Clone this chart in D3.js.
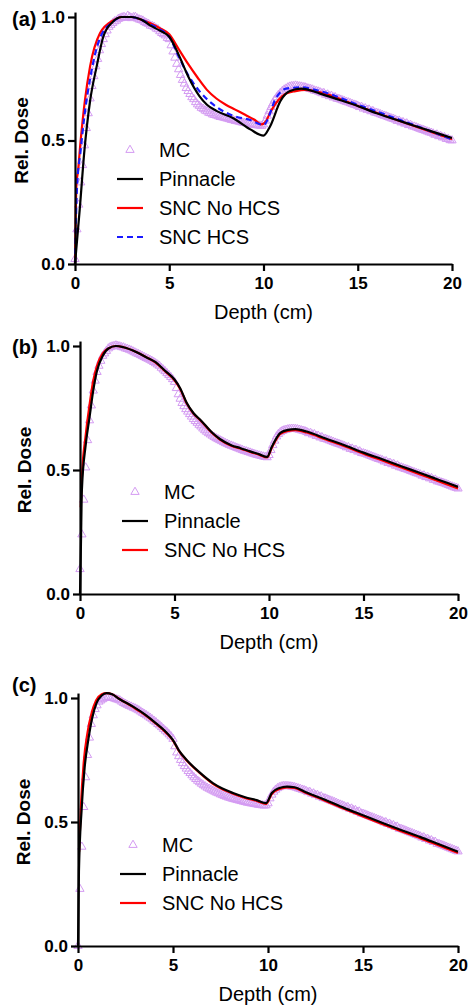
<!DOCTYPE html>
<html>
<head>
<meta charset="utf-8">
<script src="https://cdn.jsdelivr.net/npm/d3@7"></script>
<style>
  body { margin: 0; background: #fff; }
  text { font-family: "Liberation Sans", Arial, sans-serif; }
</style>
</head>
<body>
<div id="chart"></div>
<script>
// ---- data ----
const depthTicks = [0, 5, 10, 15, 20];
const doseTicks = [0, 0.5, 1.0];
const panelLabels = ["(a)", "(b)", "(c)"];

// MC scored on a 0.1 cm grid, 0..20 cm
const mcDepth = d3.range(0, 201).map(i => i / 10);

const mcA = [
  0.02, 0.14, 0.24, 0.33, 0.40, 0.48, 0.55, 0.61, 0.67, 0.72,
  0.76, 0.80, 0.83, 0.865, 0.89, 0.91, 0.93, 0.945, 0.96, 0.968,
  0.975, 0.982, 0.985, 0.992, 0.995, 0.998, 1.0, 0.996, 1.005, 1.0,
  0.995, 0.999, 1.0, 0.994, 0.99, 0.988, 0.985, 0.979, 0.975, 0.972,
  0.965, 0.963, 0.96, 0.953, 0.95, 0.942, 0.935, 0.93, 0.925, 0.915,
  0.91, 0.885, 0.86, 0.835, 0.81, 0.788, 0.765, 0.745, 0.73, 0.712,
  0.70, 0.688, 0.675, 0.667, 0.655, 0.646, 0.64, 0.632, 0.628, 0.621,
  0.618, 0.612, 0.61, 0.605, 0.603, 0.601, 0.598, 0.595, 0.594, 0.592,
  0.59, 0.588, 0.586, 0.583, 0.582, 0.579, 0.578, 0.576, 0.574, 0.572,
  0.571, 0.569, 0.568, 0.566, 0.565, 0.563, 0.562, 0.561, 0.56, 0.559,
  0.565, 0.58, 0.60, 0.618, 0.635, 0.65, 0.665, 0.675, 0.685, 0.693,
  0.70, 0.706, 0.71, 0.715, 0.718, 0.72, 0.72, 0.722, 0.72, 0.719,
  0.718, 0.716, 0.715, 0.712, 0.71, 0.708, 0.706, 0.702, 0.70, 0.698,
  0.695, 0.691, 0.692, 0.685, 0.686, 0.679, 0.681, 0.674, 0.675, 0.669,
  0.668, 0.665, 0.662, 0.659, 0.656, 0.654, 0.651, 0.648, 0.645, 0.643,
  0.64, 0.635, 0.636, 0.629, 0.63, 0.624, 0.625, 0.618, 0.619, 0.613,
  0.612, 0.609, 0.606, 0.603, 0.60, 0.598, 0.595, 0.592, 0.589, 0.587,
  0.584, 0.579, 0.58, 0.573, 0.574, 0.568, 0.569, 0.562, 0.563, 0.557,
  0.556, 0.553, 0.55, 0.547, 0.544, 0.542, 0.539, 0.536, 0.533, 0.531,
  0.528, 0.523, 0.524, 0.517, 0.518, 0.512, 0.513, 0.506, 0.507, 0.501,
  0.50
];
const mcB = [
  0.10, 0.24, 0.38, 0.51, 0.62, 0.70, 0.76, 0.82, 0.86, 0.895,
  0.92, 0.94, 0.96, 0.97, 0.98, 0.99, 0.995, 0.998, 1.0, 1.002,
  1.0, 0.998, 0.995, 0.994, 0.99, 0.988, 0.985, 0.982, 0.978, 0.974,
  0.97, 0.967, 0.963, 0.959, 0.955, 0.951, 0.948, 0.944, 0.94, 0.935,
  0.93, 0.925, 0.92, 0.912, 0.905, 0.898, 0.89, 0.883, 0.875, 0.866,
  0.855, 0.83, 0.805, 0.787, 0.77, 0.757, 0.745, 0.735, 0.725, 0.715,
  0.705, 0.697, 0.69, 0.682, 0.675, 0.667, 0.66, 0.654, 0.648, 0.643,
  0.638, 0.633, 0.628, 0.624, 0.62, 0.616, 0.612, 0.608, 0.605, 0.601,
  0.598, 0.595, 0.592, 0.589, 0.586, 0.583, 0.58, 0.577, 0.575, 0.572,
  0.57, 0.567, 0.565, 0.562, 0.56, 0.558, 0.556, 0.554, 0.552, 0.551,
  0.56, 0.58, 0.60, 0.618, 0.635, 0.645, 0.652, 0.657, 0.66, 0.662,
  0.664, 0.665, 0.666, 0.666, 0.665, 0.664, 0.662, 0.66, 0.658, 0.656,
  0.653, 0.648, 0.649, 0.643, 0.644, 0.637, 0.638, 0.631, 0.632, 0.626,
  0.625, 0.622, 0.619, 0.616, 0.613, 0.61, 0.607, 0.605, 0.602, 0.599,
  0.596, 0.591, 0.592, 0.585, 0.586, 0.58, 0.581, 0.574, 0.575, 0.568,
  0.567, 0.565, 0.562, 0.559, 0.556, 0.553, 0.55, 0.547, 0.544, 0.542,
  0.539, 0.534, 0.535, 0.528, 0.529, 0.523, 0.524, 0.517, 0.518, 0.511,
  0.51, 0.507, 0.504, 0.502, 0.499, 0.496, 0.493, 0.49, 0.487, 0.485,
  0.482, 0.477, 0.478, 0.471, 0.472, 0.466, 0.467, 0.46, 0.461, 0.454,
  0.453, 0.45, 0.448, 0.445, 0.442, 0.439, 0.436, 0.433, 0.43, 0.428,
  0.425
];
const mcC = [
  0.0, 0.23, 0.40, 0.56, 0.68, 0.77, 0.84, 0.895, 0.93, 0.955,
  0.97, 0.985, 0.99, 0.995, 1.0, 1.003, 1.005, 1.0, 1.0, 0.998,
  0.995, 0.993, 0.99, 0.985, 0.98, 0.976, 0.972, 0.968, 0.965, 0.961,
  0.958, 0.954, 0.95, 0.945, 0.94, 0.935, 0.93, 0.925, 0.92, 0.914,
  0.908, 0.902, 0.895, 0.889, 0.882, 0.875, 0.868, 0.861, 0.853, 0.845,
  0.835, 0.805, 0.78, 0.765, 0.75, 0.737, 0.725, 0.715, 0.705, 0.697,
  0.688, 0.68, 0.673, 0.666, 0.66, 0.654, 0.648, 0.643, 0.638, 0.634,
  0.63, 0.626, 0.622, 0.618, 0.615, 0.611, 0.608, 0.605, 0.602, 0.599,
  0.597, 0.594, 0.592, 0.59, 0.588, 0.586, 0.584, 0.582, 0.58, 0.578,
  0.577, 0.575, 0.574, 0.572, 0.571, 0.569, 0.568, 0.567, 0.566, 0.567,
  0.575, 0.595, 0.61, 0.622, 0.63, 0.636, 0.64, 0.643, 0.645, 0.645,
  0.645, 0.644, 0.643, 0.642, 0.64, 0.638, 0.635, 0.633, 0.63, 0.628,
  0.625, 0.62, 0.621, 0.614, 0.615, 0.608, 0.609, 0.602, 0.603, 0.596,
  0.595, 0.592, 0.589, 0.586, 0.583, 0.58, 0.577, 0.573, 0.57, 0.567,
  0.564, 0.559, 0.56, 0.553, 0.554, 0.547, 0.548, 0.541, 0.542, 0.534,
  0.533, 0.53, 0.527, 0.524, 0.521, 0.518, 0.515, 0.512, 0.509, 0.506,
  0.503, 0.498, 0.499, 0.492, 0.493, 0.486, 0.487, 0.48, 0.481, 0.473,
  0.472, 0.469, 0.466, 0.463, 0.46, 0.457, 0.454, 0.451, 0.448, 0.445,
  0.442, 0.437, 0.438, 0.431, 0.432, 0.425, 0.426, 0.419, 0.42, 0.412,
  0.411, 0.408, 0.405, 0.402, 0.399, 0.396, 0.393, 0.39, 0.387, 0.384,
  0.381
];

// [depth, dose]
const pinnacleA = [[0,0],[0.25,0.22],[0.5,0.46],[0.8,0.66],[1.15,0.8],[1.5,0.92],[2.0,0.98],[2.5,1.0],[3.0,1.0],[3.5,0.99],[4.0,0.965],[4.5,0.945],[5.0,0.92],[5.3,0.88],[5.6,0.83],[6.0,0.76],[6.6,0.68],[7.0,0.645],[7.5,0.62],[8.4,0.59],[9.3,0.545],[10.0,0.52],[10.34,0.556],[10.9,0.66],[11.4,0.70],[12,0.71],[13,0.69],[14,0.665],[15,0.64],[16,0.61],[17,0.585],[18,0.56],[19,0.535],[20,0.51]];
const sncNoHcsA = [[0,0],[0.08,0.33],[0.15,0.37],[0.3,0.5],[0.53,0.664],[0.8,0.8],[1.33,0.935],[2.0,0.985],[2.5,1.0],[3.0,1.0],[3.5,0.99],[4.0,0.975],[4.5,0.955],[5.0,0.93],[5.5,0.87],[6.0,0.81],[6.5,0.755],[7.0,0.705],[7.5,0.67],[8.0,0.645],[8.5,0.625],[9.0,0.605],[9.5,0.585],[9.9,0.565],[10.1,0.575],[10.4,0.62],[10.8,0.665],[11.2,0.69],[11.7,0.70],[12.2,0.705],[13,0.695],[15,0.64],[17,0.585],[20,0.505]];
const sncHcsA = [[0,0],[0.1,0.3],[0.3,0.46],[0.5,0.6],[0.8,0.75],[1.3,0.91],[2.0,0.98],[2.5,1.0],[3.0,1.0],[3.5,0.99],[4.0,0.97],[4.5,0.95],[5.0,0.92],[5.5,0.84],[6.0,0.765],[6.6,0.70],[7.5,0.636],[8.4,0.60],[9.3,0.583],[10.0,0.563],[10.7,0.677],[11.2,0.71],[12,0.715],[13,0.70],[15,0.645],[17,0.59],[20,0.505]];

const pinnacleB = [[0,0],[0.05,0.2],[0.1,0.42],[0.3,0.6],[0.5,0.71],[0.7,0.82],[0.9,0.9],[1.2,0.96],[1.5,0.99],[1.9,1.0],[2.3,0.995],[3,0.975],[3.5,0.955],[4,0.935],[4.5,0.9],[5,0.865],[5.3,0.83],[5.65,0.77],[6,0.73],[6.4,0.70],[7.0,0.65],[7.4,0.625],[8,0.60],[8.5,0.588],[9,0.575],[9.5,0.563],[9.9,0.553],[10.15,0.594],[10.6,0.65],[11.0,0.662],[11.4,0.665],[12,0.655],[13,0.627],[14,0.60],[15,0.57],[16,0.543],[17,0.515],[18,0.488],[19,0.46],[20,0.432]];
const sncNoHcsB = [[0.04,0.35],[0.1,0.47],[0.3,0.64],[0.5,0.76],[0.7,0.86],[0.9,0.92],[1.2,0.97],[1.5,0.99],[1.9,1.0],[2.3,0.995],[3,0.975],[3.5,0.955],[4,0.933],[4.5,0.898],[5,0.862],[5.3,0.827],[5.65,0.768],[6,0.728],[6.4,0.698],[7.0,0.648],[7.4,0.623],[8,0.598],[8.5,0.586],[9,0.573],[9.5,0.561],[9.9,0.551],[10.15,0.59],[10.6,0.646],[11.0,0.658],[11.4,0.661],[12,0.651],[13,0.623],[14,0.596],[15,0.566],[16,0.538],[17,0.51],[18,0.482],[19,0.454],[20,0.425]];

const pinnacleC = [[0,0],[0.05,0.3],[0.19,0.55],[0.35,0.72],[0.54,0.83],[0.75,0.92],[0.98,0.98],[1.25,1.01],[1.5,1.02],[1.8,1.015],[2.2,0.995],[2.9,0.965],[3.5,0.935],[4.0,0.905],[4.67,0.86],[5.0,0.83],[5.3,0.79],[5.72,0.75],[6.4,0.70],[7.1,0.657],[7.6,0.635],[8.16,0.617],[8.8,0.60],[9.4,0.588],[9.9,0.576],[10.2,0.617],[10.6,0.637],[11.0,0.643],[11.4,0.64],[12,0.62],[13,0.59],[14,0.557],[15,0.527],[16,0.497],[17,0.468],[18,0.44],[19,0.41],[20,0.38]];
const sncNoHcsC = [[0.06,0.38],[0.15,0.56],[0.3,0.74],[0.5,0.86],[0.72,0.94],[0.95,0.99],[1.25,1.015],[1.5,1.02],[1.8,1.015],[2.2,0.995],[2.9,0.963],[3.5,0.933],[4.0,0.903],[4.67,0.857],[5.0,0.828],[5.3,0.788],[5.72,0.748],[6.4,0.698],[7.1,0.654],[7.6,0.632],[8.16,0.614],[8.8,0.597],[9.4,0.585],[9.9,0.573],[10.2,0.613],[10.6,0.633],[11.0,0.64],[11.4,0.637],[12,0.617],[13,0.586],[14,0.553],[15,0.522],[16,0.492],[17,0.463],[18,0.435],[19,0.405],[20,0.375]];

// ---- layout ----
const width = 470, height = 1006;
const colors = { mc: "#d49bf2", pinnacle: "#000000", noHcs: "#ff0000", hcs: "#1a1aff" };

const panels = [
  { label: panelLabels[0], x0: 75, x1: 452, yOne: 17, yZero: 264, labelY: 26, titleX: 28,
    mc: mcA, legendY: [150, 179, 208, 237],
    lines: [
      { name: "SNC No HCS", data: sncNoHcsA, color: colors.noHcs, dash: null },
      { name: "SNC HCS", data: sncHcsA, color: colors.hcs, dash: "6,4" },
      { name: "Pinnacle", data: pinnacleA, color: colors.pinnacle, dash: null }
    ] },
  { label: panelLabels[1], x0: 80, x1: 458, yOne: 346, yZero: 594, labelY: 354, titleX: 31,
    mc: mcB, legendY: [492, 521, 550],
    lines: [
      { name: "SNC No HCS", data: sncNoHcsB, color: colors.noHcs, dash: null },
      { name: "Pinnacle", data: pinnacleB, color: colors.pinnacle, dash: null }
    ] },
  { label: panelLabels[2], x0: 78, x1: 458, yOne: 698, yZero: 946, labelY: 692, titleX: 30,
    mc: mcC, legendY: [845, 874, 903],
    lines: [
      { name: "SNC No HCS", data: sncNoHcsC, color: colors.noHcs, dash: null },
      { name: "Pinnacle", data: pinnacleC, color: colors.pinnacle, dash: null }
    ] }
];

const svg = d3.select("#chart").append("svg")
  .attr("width", width)
  .attr("height", height);

const triangle = d3.symbol().type(d3.symbolTriangle).size(30);

panels.forEach(function(p) {
  let x = d3.scaleLinear().domain([0, 20]).range([p.x0, p.x1]);
  let y = d3.scaleLinear().domain([0, 1]).range([p.yZero, p.yOne]);
  const yTopVal = 1.02;

  let g = svg.append("g");

  // MC points
  g.append("g").selectAll("path")
    .data(p.mc)
    .enter()
    .append("path")
    .attr("d", triangle)
    .attr("transform", (d, i) => `translate(${x(mcDepth[i])},${y(d)})`)
    .attr("fill", "none")
    .attr("stroke", colors.mc)
    .attr("stroke-width", 1);

  // calc lines
  let line = d3.line()
    .x(d => x(d[0]))
    .y(d => y(d[1]))
    .curve(d3.curveMonotoneX);

  p.lines.forEach(function(l) {
    g.append("path")
      .datum(l.data)
      .attr("d", line)
      .attr("fill", "none")
      .attr("stroke", l.color)
      .attr("stroke-width", 2.2)
      .attr("stroke-dasharray", l.dash);
  });

  // x axis
  let xAxis = g.append("g")
    .attr("transform", `translate(0,${p.yZero})`)
    .call(d3.axisBottom(x).tickValues(depthTicks).tickSize(7).tickPadding(6).tickSizeOuter(0));

  // y axis (runs a little above 1.0)
  let yAx = d3.scaleLinear().domain([0, yTopVal]).range([p.yZero, y(yTopVal)]);
  let yAxis = g.append("g")
    .attr("transform", `translate(${p.x0},0)`)
    .call(d3.axisLeft(yAx).tickValues(doseTicks).tickFormat(d3.format(".1f")).tickSize(7).tickPadding(3).tickSizeOuter(0));

  [xAxis, yAxis].forEach(function(a) {
    a.select(".domain").attr("stroke", "#000").attr("stroke-width", 2.2);
    a.selectAll(".tick line").attr("stroke", "#000").attr("stroke-width", 2.2);
    a.selectAll(".tick text")
      .attr("fill", "#000")
      .style("font-size", "17px")
      .style("font-weight", "bold")
      .style("font-family", "'Liberation Sans', Arial, sans-serif");
  });

  // axis titles
  g.append("text")
    .attr("x", (p.x0 + p.x1) / 2)
    .attr("y", p.yZero + 55)
    .attr("text-anchor", "middle")
    .style("font-size", "20px")
    .text("Depth (cm)");

  g.append("text")
    .attr("transform", `translate(${p.titleX},${y(0.5)}) rotate(-90)`)
    .attr("text-anchor", "middle")
    .style("font-size", "19px")
    .style("font-weight", "bold")
    .text("Rel. Dose");

  g.append("text")
    .attr("x", 12)
    .attr("y", p.labelY)
    .style("font-size", "20px")
    .style("font-weight", "bold")
    .text(p.label);

  // legend
  let lx0 = p.x0 + 42, lx1 = p.x0 + 68, tx = p.x0 + 84;
  let leg = g.append("g");
  leg.append("path")
    .attr("d", triangle)
    .attr("transform", `translate(${(lx0 + lx1) / 2},${p.legendY[0]})`)
    .attr("fill", "none")
    .attr("stroke", colors.mc);
  leg.append("text")
    .attr("x", tx).attr("y", p.legendY[0])
    .attr("dy", "0.35em")
    .style("font-size", "20px")
    .text("MC");

  let order = [p.lines.find(l => l.name === "Pinnacle")].concat(p.lines.filter(l => l.name !== "Pinnacle"));
  order.forEach(function(l, i) {
    let yy = p.legendY[i + 1];
    leg.append("line")
      .attr("x1", lx0).attr("x2", lx1)
      .attr("y1", yy).attr("y2", yy)
      .attr("stroke", l.color)
      .attr("stroke-width", 2.2)
      .attr("stroke-dasharray", l.dash);
    leg.append("text")
      .attr("x", tx).attr("y", yy)
      .attr("dy", "0.35em")
      .style("font-size", "20px")
      .text(l.name);
  });
});
</script>
</body>
</html>
